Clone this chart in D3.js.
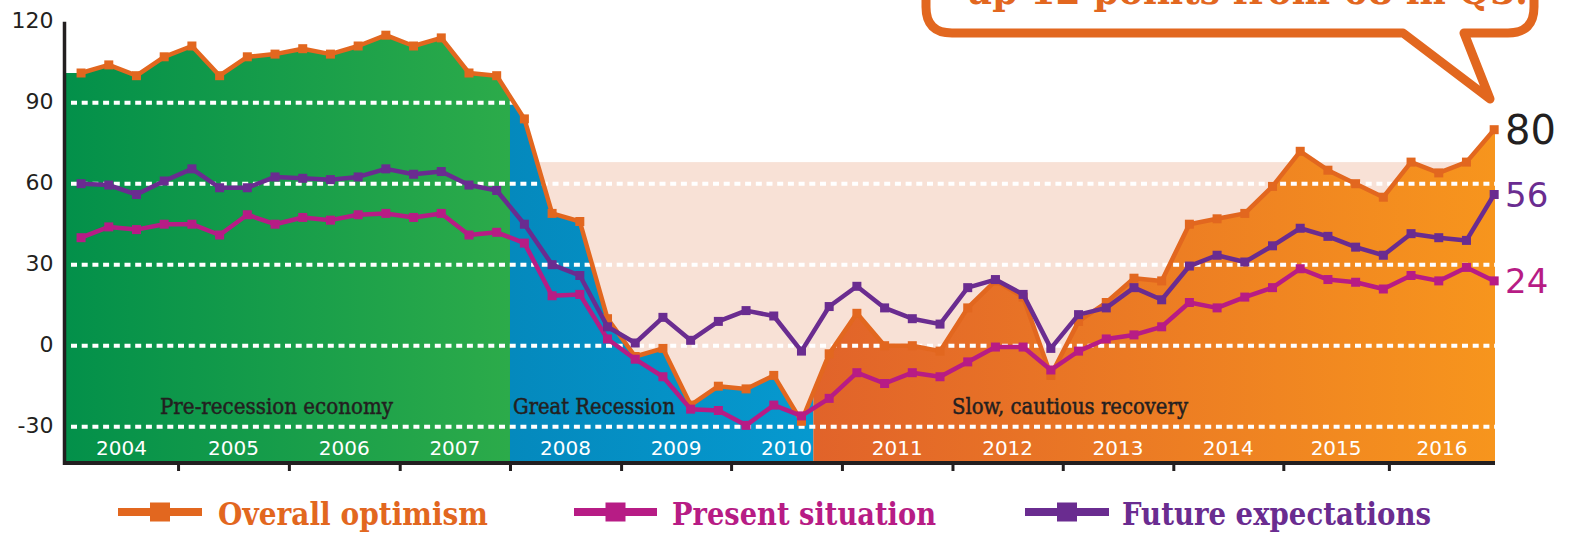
<!DOCTYPE html>
<html>
<head>
<meta charset="utf-8">
<script src="https://cdn.jsdelivr.net/npm/d3@7"></script>
<style>
  html, body { margin: 0; padding: 0; background: #fff; }
  svg { display: block; }
</style>
</head>
<body>
<div id="chart"></div>
<script>
// --- data (quarterly, 2004 Q1 .. 2016 Q4) ---
const years = [2004, 2005, 2006, 2007, 2008, 2009, 2010, 2011, 2012, 2013, 2014, 2015, 2016];
const quarters = years.flatMap(yr => ["Q1", "Q2", "Q3", "Q4"].map(q => yr + " " + q));

const overall = [101, 104, 100, 107, 111, 100, 107, 108, 110, 108, 111, 115, 111, 114, 101, 100,
                 84, 49, 46, 10, -4, -1, -22, -15, -16, -11, -28, -3, 12, 0, 0, -2,
                 14, 24, 18, -11, 9, 16, 25, 24, 45, 47, 49, 59, 72, 65, 60, 55,
                 68, 64, 68, 80];
const present = [40, 44, 43, 45, 45, 41, 48.5, 45, 47.5, 46.5, 48.5, 49, 47.5, 49, 41, 42,
                 38, 18.5, 19, 2.5, -5, -11.5, -23.5, -24, -29.5, -22, -26, -19.5, -10, -14, -10, -11.5,
                 -6, -0.5, -0.5, -9, -2, 2.5, 4, 7, 16, 14, 18, 21.5, 28.5, 24.5, 23.5, 21,
                 26, 24, 29, 24];
const future = [60, 59.5, 56, 61, 65.5, 58.5, 58.5, 62.5, 62, 61.5, 62.5, 65.5, 63.5, 64.5, 59.5, 57.5,
                45, 30, 26, 7, 1, 10.5, 2, 9, 13, 11, -2, 14.5, 22, 14, 10, 8,
                21.5, 24.5, 19, -1, 11.5, 14, 21.5, 17, 29.5, 33.5, 31, 37, 43.5, 40.5, 36.5, 33.5,
                41.5, 40, 39, 56];

const yTicks = [-30, 0, 30, 60, 90, 120];
const gridValues = [-30, 0, 30, 60, 90];
// year boundaries in quarter-index units (as drawn in the original)
const yearStarts = [-0.58, 3.5, 7.5, 11.5, 15.48, 19.49, 23.46, 27.46, 31.45, 35.43, 39.42, 43.39, 47.2, 51.03];
const periodNames = ["Pre-recession economy", "Great Recession", "Slow, cautious recovery"];
const periodBounds = [-0.58, 15.48, 26.43, 51.03];
const q3Value = 68;
const calloutText = "up 12 points from 68 in Q3.";

const width = 1574, height = 533;
const ink = "#231f20";

let x = d3.scaleLinear().domain([-0.58, 51.03]).range([65, 1495]);
let y = d3.scaleLinear().domain([-43, 120]).range([461.8, 21.7]);

const series = [
  {name: "Overall optimism", values: overall, color: "#e2671f"},
  {name: "Present situation", values: present, color: "#b71c85"},
  {name: "Future expectations", values: future, color: "#6a2c90"}
];

let svg = d3.select("#chart").append("svg")
    .attr("width", width)
    .attr("height", height);

let defs = svg.append("defs");

// gradients for the three periods
const periodFills = [["#03904a", "#2cab4a"], ["#0489bd", "#0699cf"], ["#e1632a", "#f7951d"]];
periodFills.forEach(function(c, k) {
  let g = defs.append("linearGradient")
      .attr("id", "grad" + k)
      .attr("gradientUnits", "userSpaceOnUse")
      .attr("x1", x(periodBounds[k])).attr("x2", x(periodBounds[k + 1]))
      .attr("y1", 0).attr("y2", 0);
  g.append("stop").attr("offset", "0%").attr("stop-color", c[0]);
  g.append("stop").attr("offset", "100%").attr("stop-color", c[1]);
  defs.append("clipPath").attr("id", "clip" + k)
    .append("rect")
      .attr("x", x(periodBounds[k])).attr("y", 0)
      .attr("width", x(periodBounds[k + 1]) - x(periodBounds[k]))
      .attr("height", height);
});

// peach band below the Q3 level
svg.append("rect")
    .attr("x", x(15.48))
    .attr("y", y(q3Value))
    .attr("width", x(51.03) - x(15.48))
    .attr("height", y(-43) - y(q3Value))
    .style("fill", "#f8e1d6");

// area under the overall line, coloured by period
let areaData = [{i: -0.58, v: overall[0]}]
    .concat(overall.map((v, i) => ({i: i, v: v})))
    .concat([{i: 51.03, v: overall[overall.length - 1]}]);

let area = d3.area()
    .x(d => x(d.i))
    .y0(y(-43))
    .y1(d => y(d.v));

periodNames.forEach(function(p, k) {
  svg.append("path")
      .datum(areaData)
      .attr("d", area)
      .attr("clip-path", "url(#clip" + k + ")")
      .style("fill", "url(#grad" + k + ")");
});

// dotted white gridlines
svg.append("g").selectAll("line")
    .data(gridValues)
    .enter().append("line")
    .attr("x1", 71).attr("x2", x(51.03))
    .attr("y1", d => y(d)).attr("y2", d => y(d))
    .style("stroke", "white")
    .style("stroke-width", 4)
    .style("stroke-dasharray", "6,4.7");

// period labels
const periodLabelPos = [{x: 160, w: 233}, {x: 513, w: 162}, {x: 952, w: 236}];
svg.append("g").selectAll("text")
    .data(periodNames)
    .enter().append("text")
    .attr("x", (d, k) => periodLabelPos[k].x)
    .attr("y", 414)
    .attr("textLength", (d, k) => periodLabelPos[k].w)
    .attr("lengthAdjust", "spacingAndGlyphs")
    .style("font-family", "'DejaVu Serif', serif")
    .style("font-size", "22px")
    .style("fill", ink)
    .style("stroke", ink)
    .style("stroke-width", 0.5)
    .text(d => d);

// year labels
svg.append("g").selectAll("text")
    .data(years)
    .enter().append("text")
    .attr("x", (d, k) => (x(yearStarts[k]) + x(yearStarts[k + 1])) / 2)
    .attr("y", 455)
    .attr("text-anchor", "middle")
    .style("font-family", "'DejaVu Sans', sans-serif")
    .style("font-size", "20px")
    .style("fill", "white")
    .text(d => d);

// lines + square markers
let line = d3.line()
    .x((d, i) => x(i))
    .y(d => y(d));

series.forEach(function(s) {
  let g = svg.append("g").attr("class", "series");
  g.append("path")
      .datum(s.values)
      .attr("d", line)
      .style("fill", "none")
      .style("stroke", s.color)
      .style("stroke-width", 4.5)
      .style("stroke-linejoin", "round");
  g.selectAll("rect")
      .data(s.values)
      .enter().append("rect")
      .attr("x", (d, i) => x(i) - 4.5)
      .attr("y", d => y(d) - 4.5)
      .attr("width", 9)
      .attr("height", 9)
      .style("fill", s.color);
});

// end value labels (overall in black, others in their series colour)
svg.append("g").selectAll("text")
    .data(series)
    .enter().append("text")
    .attr("x", 1505)
    .attr("y", d => y(d.values[d.values.length - 1]))
    .attr("dy", "0.36em")
    .style("font-family", "'DejaVu Sans', sans-serif")
    .style("font-size", (d, k) => (k === 0 ? 40 : 34) + "px")
    .style("fill", (d, k) => k === 0 ? ink : d.color)
    .text(d => d.values[d.values.length - 1]);

// axes
let xAxis = d3.axisBottom(x)
    .tickValues(yearStarts.slice(1, -1))
    .tickSize(8)
    .tickSizeOuter(0)
    .tickFormat("");
let gx = svg.append("g")
    .attr("transform", "translate(0," + 463 + ")")
    .call(xAxis);
gx.select(".domain").attr("d", "M63,0H" + x(51.03)).style("stroke", ink).style("stroke-width", 4);
gx.selectAll(".tick line").style("stroke", ink).style("stroke-width", 3);

let yAxis = d3.axisLeft(y)
    .tickValues(yTicks)
    .tickSize(0)
    .tickPadding(11)
    .tickFormat(d => String(d));
let gy = svg.append("g")
    .attr("transform", "translate(64.5,0)")
    .call(yAxis);
gy.select(".domain").attr("d", "M0," + y(120) + "V465").style("stroke", ink).style("stroke-width", 3.5);
gy.selectAll(".tick text")
    .attr("dy", "0.25em")
    .style("font-family", "'DejaVu Sans', sans-serif")
    .style("font-size", "22px")
    .style("fill", ink);

// legend
const legendPos = [{x1: 118, x2: 202, tx: 218, tw: 270}, {x1: 574, x2: 657, tx: 672, tw: 264}, {x1: 1025, x2: 1109, tx: 1122, tw: 309}];
let legend = svg.append("g").selectAll("g")
    .data(series)
    .enter().append("g");
legend.append("line")
    .attr("x1", (d, k) => legendPos[k].x1)
    .attr("x2", (d, k) => legendPos[k].x2)
    .attr("y1", 512).attr("y2", 512)
    .style("stroke", d => d.color)
    .style("stroke-width", 8);
legend.append("rect")
    .attr("x", (d, k) => (legendPos[k].x1 + legendPos[k].x2) / 2 - 10)
    .attr("y", 502.5)
    .attr("width", 20).attr("height", 19)
    .style("fill", d => d.color);
legend.append("text")
    .attr("x", (d, k) => legendPos[k].tx)
    .attr("y", 525)
    .attr("textLength", (d, k) => legendPos[k].tw)
    .attr("lengthAdjust", "spacingAndGlyphs")
    .style("font-family", "'DejaVu Serif', serif")
    .style("font-weight", "bold")
    .style("font-size", "31px")
    .style("fill", d => d.color)
    .text(d => d.name);

// speech bubble callout
const L = 926, R = 1534, B = 33, T = -80, r = 26;
svg.append("path")
    .attr("d", "M" + L + "," + T + "V" + (B - r) + "Q" + L + "," + B + " " + (L + r) + "," + B +
               "H1403L1490,99L1464," + B + "H" + (R - r) + "Q" + R + "," + B + " " + R + "," + (B - r) + "V" + T)
    .style("fill", "white")
    .style("stroke", "#e2671f")
    .style("stroke-width", 9)
    .style("stroke-linejoin", "round");
svg.append("text")
    .attr("x", 966)
    .attr("y", 4)
    .attr("textLength", 562)
    .attr("lengthAdjust", "spacingAndGlyphs")
    .style("font-family", "'DejaVu Serif', serif")
    .style("font-weight", "bold")
    .style("font-size", "40px")
    .style("fill", "#e2671f")
    .text(calloutText);
</script>
</body>
</html>
